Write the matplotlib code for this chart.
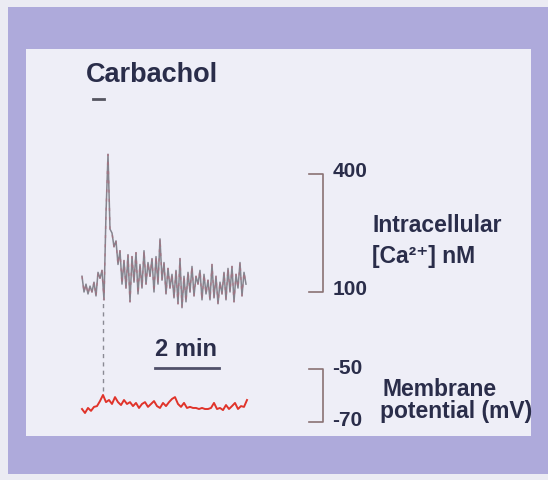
import numpy as np
import matplotlib
matplotlib.use("Agg")
import matplotlib.pyplot as plt
from matplotlib.patches import Rectangle

plt.rcParams["font.family"] = ["Liberation Sans", "DejaVu Sans"]

# --- data
# intracellular Ca2+ (nM), one sample every 0.0625 min
ca_step_min = 0.0625
ca_nM = [140, 100, 120, 95, 115, 100, 125, 90, 150, 135, 155, 80,
         300, 450, 260, 250, 215, 230, 170, 205, 120, 180, 110, 195,
         75, 190, 125, 200, 95, 170, 110, 205, 120, 175, 140, 185,
         100, 190, 120, 235, 130, 175, 95, 160, 110, 145, 85, 155,
         70, 185, 60, 140, 75, 150, 100, 165, 90, 140, 120, 155,
         80, 145, 95, 130, 80, 170, 85, 140, 70, 125, 95, 150,
         80, 160, 100, 165, 75, 145, 110, 175, 90, 150, 120]
# membrane potential (mV), one sample every 0.09375 min
vm_step_min = 0.09375
vm_mV = [-65.1, -66.6, -64.7, -65.8, -64.3, -64.0, -62.1, -59.8, -62.5, -61.7,
         -63.2, -60.6, -62.5, -63.6, -61.7, -63.2, -62.5, -64.0, -62.8, -64.7,
         -63.2, -62.5, -64.3, -63.2, -62.1, -64.0, -64.7, -62.8, -64.0, -62.5,
         -61.3, -60.6, -63.2, -64.3, -62.8, -64.7, -64.3, -64.7, -64.7, -65.1,
         -64.7, -65.1, -65.1, -64.7, -62.8, -65.1, -64.7, -65.5, -63.6, -65.1,
         -64.0, -62.8, -65.1, -64.0, -64.3, -61.7]
carbachol_on = [0.34, 0.69]   # min
stim_time = 0.66              # min, dashed marker
ca_scale = [100, 400]         # nM
vm_scale = [-70, -50]         # mV
time_bar = 2                  # min

ca_t = np.arange(len(ca_nM)) * ca_step_min
vm_t = np.arange(len(vm_mV)) * vm_step_min

W, H = 548, 481
fig = plt.figure(figsize=(W / 100, H / 100), dpi=100)

def box(x0, y0, x1, y1):
    # pixel box (top-left origin) -> figure fraction rect
    return [x0 / W, 1 - y1 / H, (x1 - x0) / W, (y1 - y0) / H]

# background: page, purple frame, inner panel
bg = fig.add_axes([0, 0, 1, 1])
bg.set_xlim(0, W)
bg.set_ylim(H, 0)
bg.axis("off")
bg.add_patch(Rectangle((0, 0), W, H, facecolor="#ebebf3", edgecolor="none"))
bg.add_patch(Rectangle((8, 8), W - 8, 467, facecolor="#aeaadb", edgecolor="none"))
bg.add_patch(Rectangle((26, 50), 505, 387, facecolor="#eeeef7", edgecolor="none"))

txt = "#2a2d4a"
bg.text(86, 75, "Carbachol", fontsize=19.5, fontweight="bold", color=txt, va="center", ha="left")
bg.text(186, 350, "2 min", fontsize=17, fontweight="bold", color=txt, va="center", ha="center")
bg.text(372, 226, "Intracellular", fontsize=16.5, fontweight="bold", color=txt, va="center")
bg.text(372, 256, "[Ca²⁺] nM", fontsize=16.5, fontweight="bold", color=txt, va="center")
bg.text(382, 390, "Membrane", fontsize=16.5, fontweight="bold", color=txt, va="center")
bg.text(380, 412, "potential (mV)", fontsize=16.5, fontweight="bold", color=txt, va="center")

t_max = 164 / 32  # min spanned by the traces

# Ca2+ trace
ax_ca = fig.add_axes(box(82, 175, 246, 293))
ax_ca.set_xlim(0, t_max)
ax_ca.set_ylim(ca_scale[0], ca_scale[1])
ax_ca.axis("off")
ax_ca.patch.set_alpha(0)
ax_ca.plot(ca_t, ca_nM, color="#85858f", lw=1.1, clip_on=False)
ax_ca.plot(ca_t, ca_nM, color="#b06a7c", lw=1.1, alpha=0.55,
           linestyle=(0, (2, 4)), clip_on=False)
# carbachol application bar
ax_ca.plot(carbachol_on, [590, 590], color="#555560", lw=2, clip_on=False)
# Ca scale bracket
bx = (323 - 82) / 32
tx = (309 - 82) / 32
ax_ca.plot([tx, bx, bx, tx], [ca_scale[1], ca_scale[1], ca_scale[0], ca_scale[0]],
           color="#8a7274", lw=1.2, clip_on=False)
ax_ca.text(bx + 0.3, ca_scale[1] + 10, str(ca_scale[1]), fontsize=15, fontweight="bold",
           color=txt, va="center", ha="left")
ax_ca.text(bx + 0.3, ca_scale[0] + 8, str(ca_scale[0]), fontsize=15, fontweight="bold",
           color=txt, va="center", ha="left")

# membrane potential trace
ax_vm = fig.add_axes(box(82, 370, 246, 423))
ax_vm.set_xlim(0, t_max)
ax_vm.set_ylim(vm_scale[0], vm_scale[1])
ax_vm.axis("off")
ax_vm.patch.set_alpha(0)
ax_vm.plot(vm_t, vm_mV, color="#e0332a", lw=1.4, clip_on=False)
# dashed marker linking the two traces
ax_vm.plot([stim_time, stim_time], [-58.3, -23.6], color="#8a8a94", lw=1,
           linestyle=(0, (3, 3)), clip_on=False)
# time scale bar
ax_vm.plot([2.28, 2.28 + time_bar], [-49.6, -49.6], color="#50506a", lw=2, clip_on=False)
# Vm scale bracket
ax_vm.plot([tx, bx, bx, tx], [vm_scale[1], vm_scale[1], vm_scale[0], vm_scale[0]],
           color="#8a7274", lw=1.2, clip_on=False)
ax_vm.text(bx + 0.3, vm_scale[1] + 0.6, str(vm_scale[1]), fontsize=15, fontweight="bold",
           color=txt, va="center", ha="left")
ax_vm.text(bx + 0.3, vm_scale[0] + 1.0, str(vm_scale[0]), fontsize=15, fontweight="bold",
           color=txt, va="center", ha="left")

fig.savefig("out.png", dpi=100)
